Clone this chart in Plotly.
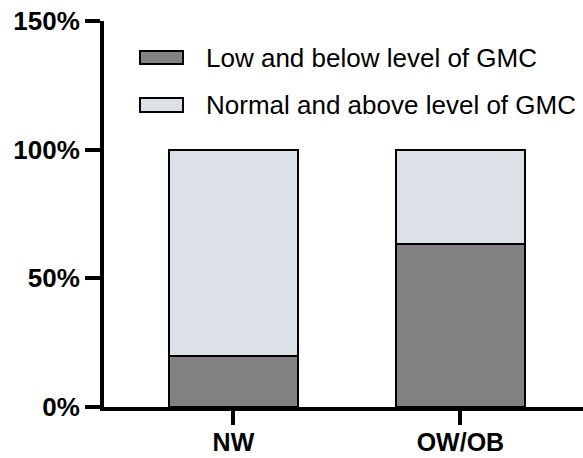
import plotly.graph_objects as go

categories = ["NW", "OW/OB"]
low_values = [20.0, 63.5]
normal_values = [80.0, 36.5]
series_names = ["Low and below level of GMC", "Normal and above level of GMC"]
tick_vals = [0, 50, 100, 150]
tick_text = ["0%", "50%", "100%", "150%"]

colors = ["#838283", "#DCE0E7"]

W, H = 583, 458
ML, MR, MT, MB = 104, 0, 21, 51
PW, PH = W - ML - MR, H - MT - MB

fig = go.Figure()
for name, vals, col in zip(series_names, [low_values, normal_values], colors):
    fig.add_trace(go.Bar(
        x=categories, y=vals, name=name,
        marker=dict(color=col, line=dict(color="black", width=2)),
        width=0.567, showlegend=False,
    ))

def px_x(p):
    return (p - ML) / PW

def px_y(p):
    return 1 - (p - MT) / PH

# custom legend
rows = [(51, 64), (98, 112)]
shapes = []
annotations = []
for (y0, y1), name, col in zip(rows, series_names, colors):
    shapes.append(dict(type="rect", xref="paper", yref="paper",
                       x0=px_x(140), x1=px_x(183), y0=px_y(y1), y1=px_y(y0),
                       fillcolor=col, line=dict(color="black", width=2)))
    annotations.append(dict(xref="paper", yref="paper", x=px_x(204), y=px_y((y0 + y1) / 2),
                            text=name, showarrow=False, xanchor="left", yanchor="middle",
                            font=dict(family="Liberation Sans, Arial", size=26, color="black")))

fig.update_layout(
    barmode="stack",
    width=W, height=H,
    margin=dict(l=ML, r=MR, t=MT, b=MB, pad=0, autoexpand=False),
    plot_bgcolor="white", paper_bgcolor="white",
    bargap=0.4,
    shapes=shapes, annotations=annotations,
    font=dict(family="Liberation Sans, Arial", color="black"),
)
fig.update_xaxes(
    range=[-0.57, 1.54], showline=True, linecolor="black", linewidth=4,
    ticks="outside", ticklen=14, tickwidth=4, tickcolor="black",
    tickfont=dict(size=25, family="Liberation Sans, Arial", weight="bold"),
    ticklabelstandoff=-4,
    showgrid=False, zeroline=False, automargin=False,
)
fig.update_yaxes(
    range=[0, 150], tickvals=tick_vals, ticktext=tick_text,
    showline=True, linecolor="black", linewidth=4,
    ticks="outside", ticklen=15, tickwidth=4, tickcolor="black",
    tickfont=dict(size=26, family="Liberation Sans, Arial", weight="bold"),
    showgrid=False, zeroline=False, automargin=False,
)

fig.write_html("out.html", config={"displayModeBar": False},
               post_script="document.body.style.margin='0';document.body.style.padding='0';")
